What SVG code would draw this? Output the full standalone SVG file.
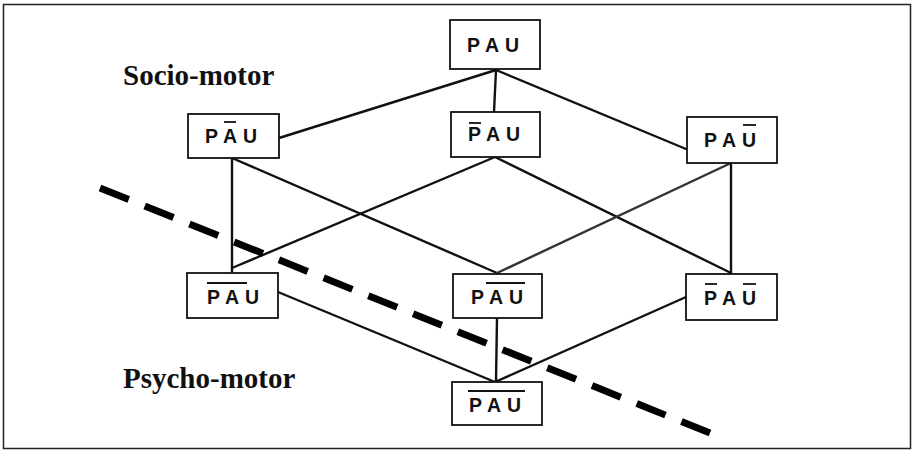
<svg xmlns="http://www.w3.org/2000/svg" width="914" height="452" viewBox="0 0 914 452">
  <style>
    .frame { fill: #fff; stroke: #222; stroke-width: 1.5; }
    .box { fill: #fff; stroke: #111; stroke-width: 1.8; }
    .lbl { font-family: "Liberation Sans", Arial, sans-serif; font-weight: bold; font-size: 19.5px; fill: #111; }
    .bar { stroke: #111; stroke-width: 1.8; }
    .edge { stroke: #111; stroke-width: 2.4; fill: none; stroke-linecap: round; }
    .zone { font-family: "Liberation Serif", "Times New Roman", serif; font-weight: bold; font-size: 29px; fill: #111; }
    .divider { stroke: #000; stroke-width: 7; stroke-dasharray: 31 17.2; fill: none; }
  </style>

  <rect class="frame" x="3.5" y="4.5" width="907" height="444"/>

  <!-- connectors of the lattice -->
  <g id="connectors">
    <line class="edge" x1="496" y1="70" x2="279" y2="138"/>
    <line class="edge" x1="496" y1="70" x2="494" y2="112"/>
    <line class="edge" x1="496" y1="70" x2="686" y2="149"/>
    <line class="edge" x1="232" y1="158" x2="232" y2="272"/>
    <line class="edge" x1="232" y1="158" x2="497" y2="273"/>
    <line class="edge" x1="495" y1="157" x2="232" y2="268"/>
    <line class="edge" x1="495" y1="157" x2="731" y2="273"/>
    <line class="edge" x1="731" y1="163" x2="731" y2="273"/>
    <line class="edge" x1="731" y1="163" x2="497" y2="273" style="stroke:#333"/>
    <line class="edge" x1="278" y1="292" x2="495" y2="382"/>
    <line class="edge" x1="497" y1="318" x2="496" y2="382"/>
    <line class="edge" x1="686" y1="297" x2="495" y2="382"/>
  </g>

  <!-- nodes: letters P, A, U at offsets 0, 18, 37 from the label start -->
  <g id="n-pau">
    <rect class="box" x="450" y="20" width="90" height="49"/>
    <text class="lbl" x="467" y="52">P<tspan x="485">A</tspan><tspan x="505">U</tspan></text>
  </g>

  <g id="n-p-abar-u">
    <rect class="box" x="188" y="114" width="91" height="44"/>
    <text class="lbl" x="205" y="143">P<tspan x="223">A</tspan><tspan x="243">U</tspan></text>
    <line class="bar" x1="224" y1="122" x2="236" y2="122"/>
  </g>

  <g id="n-pbar-a-u">
    <rect class="box" x="451" y="112" width="89" height="45"/>
    <text class="lbl" x="468" y="141">P<tspan x="486">A</tspan><tspan x="506">U</tspan></text>
    <line class="bar" x1="469" y1="123" x2="481" y2="123"/>
  </g>

  <g id="n-p-a-ubar">
    <rect class="box" x="687" y="117" width="90" height="46"/>
    <text class="lbl" x="704" y="147">P<tspan x="722">A</tspan><tspan x="742">U</tspan></text>
    <line class="bar" x1="743" y1="125" x2="756" y2="125"/>
  </g>

  <g id="n-pabar-u">
    <rect class="box" x="187" y="273" width="91" height="45"/>
    <text class="lbl" x="207" y="304">P<tspan x="225">A</tspan><tspan x="245">U</tspan></text>
    <line class="bar" x1="207" y1="283" x2="247" y2="283"/>
  </g>

  <g id="n-p-aubar">
    <rect class="box" x="453" y="274" width="89" height="44"/>
    <text class="lbl" x="471" y="304">P<tspan x="489">A</tspan><tspan x="509">U</tspan></text>
    <line class="bar" x1="486" y1="283" x2="525" y2="283"/>
  </g>

  <g id="n-pbar-a-ubar">
    <rect class="box" x="686" y="274" width="91" height="46"/>
    <text class="lbl" x="704" y="305">P<tspan x="722">A</tspan><tspan x="742">U</tspan></text>
    <line class="bar" x1="705" y1="284" x2="717" y2="284"/>
    <line class="bar" x1="743" y1="284" x2="756" y2="284"/>
  </g>

  <g id="n-paubar">
    <rect class="box" x="452" y="382" width="90" height="43"/>
    <text class="lbl" x="469" y="412">P<tspan x="487">A</tspan><tspan x="507">U</tspan></text>
    <line class="bar" x1="468" y1="391" x2="525" y2="391"/>
  </g>

  <!-- region labels and the dividing line -->
  <text class="zone" x="123" y="85">Socio-motor</text>
  <text class="zone" x="123" y="388">Psycho-motor</text>
  <line class="divider" x1="100" y1="188" x2="710" y2="433"/>
</svg>
